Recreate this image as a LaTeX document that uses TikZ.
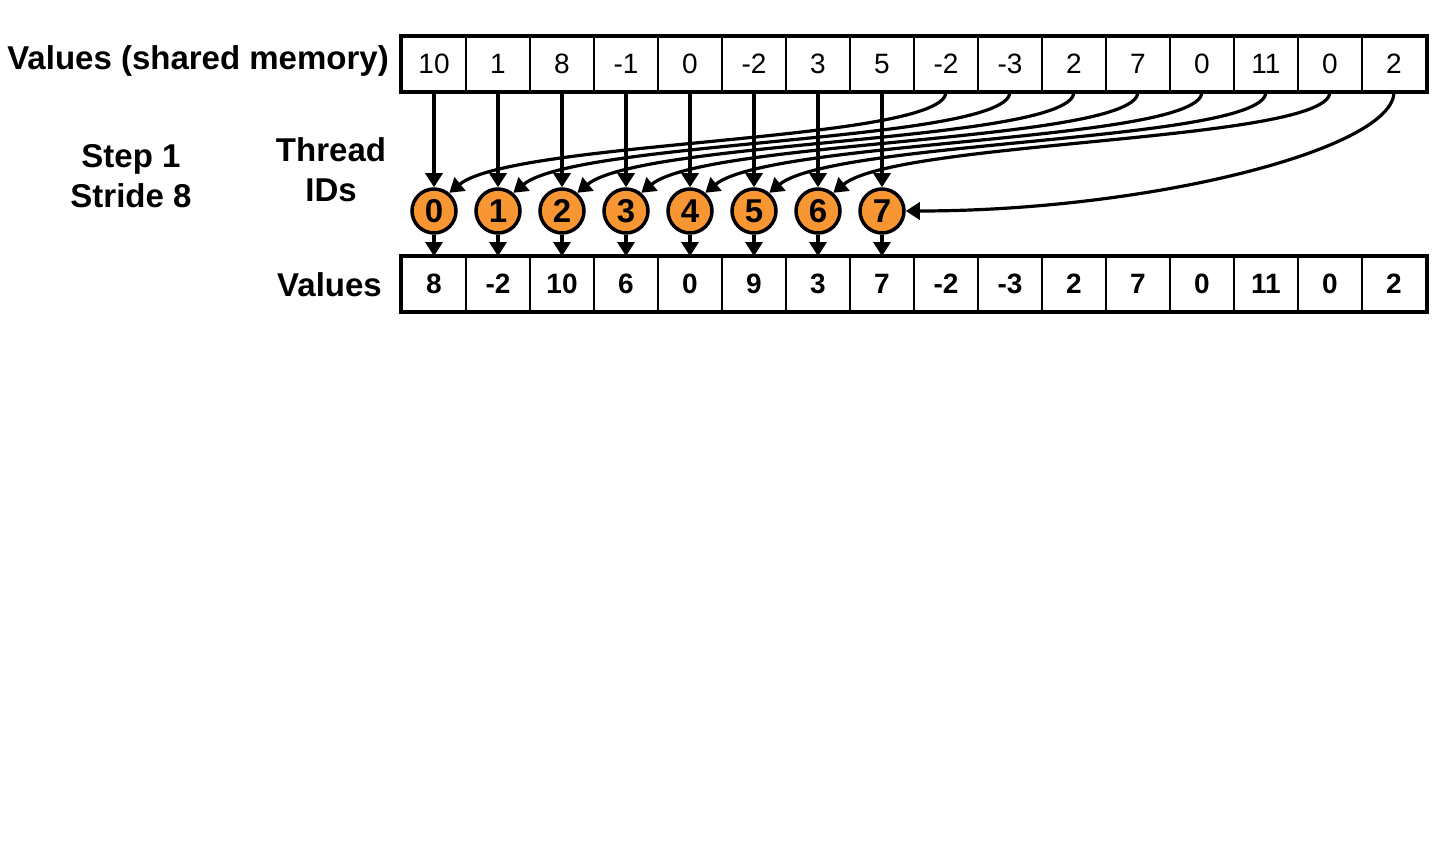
\documentclass[tikz,border=0pt]{standalone}
\usepackage{fontspec}
\setmainfont{Liberation Sans}
\usetikzlibrary{arrows.meta}
\definecolor{thorange}{RGB}{247,150,50}
\begin{document}
\begin{tikzpicture}[x=1pt,y=-1pt,
  cellT/.style={draw,line width=1.8pt,minimum width=64pt,minimum height=54pt,inner sep=0pt,font=\fontsize{28}{30}\selectfont},
  cellB/.style={cellT,font=\fontsize{28}{30}\selectfont\bfseries},
  circ/.style={circle,draw,line width=3.5pt,fill=thorange,minimum size=44pt,inner sep=0pt,font=\fontsize{33}{35}\selectfont\bfseries},
  arr/.style={line width=3.2pt,-{Triangle[width=17pt,length=14pt]}},
  lbl/.style={font=\fontsize{33}{38}\selectfont\bfseries,inner sep=0pt}]
\useasboundingbox (0,0) rectangle (1454,850);
% top array
\foreach \v [count=\i from 0] in {10,1,8,-1,0,-2,3,5,-2,-3,2,7,0,11,0,2}
  \node[cellT] (t\i) at (434+64*\i,64) {\v};
\draw[line width=4.5pt] (t0.north west) rectangle (t15.south east);
% bottom array
\foreach \v [count=\i from 0] in {8,-2,10,6,0,9,3,7,-2,-3,2,7,0,11,0,2}
  \node[cellB] (b\i) at (434+64*\i,284) {\v};
\draw[line width=4.5pt] (b0.north west) rectangle (b15.south east);
% thread circles
\foreach \i in {0,...,7}
  \node[circ] (c\i) at (434+64*\i,211) {\i};
% labels
\node[lbl,anchor=base east] (lvals) at (389,70) {Values (shared memory)};
\node[lbl,anchor=base] (lstep) at (131,168) {Step 1};
\node[lbl,anchor=base] (lstride) at (131,208) {Stride 8};
\node[lbl,anchor=base] (lthread) at (331,162) {Thread};
\node[lbl,anchor=base] (lids) at (331,202) {IDs};
\node[lbl,anchor=base east] (lvalsb) at (382,297) {Values};
% vertical arrows
\foreach \i in {0,...,7}{
  \draw[arr] (t\i.south) -- (c\i.north);
  \draw[arr] (c\i.south) -- (b\i.north);
}
% curved arrows
\foreach \i in {0,...,6}{
  \pgfmathtruncatemacro{\j}{\i+8}
  \draw[arr] (t\j.south) .. controls +(0,50) and (434+64*\i+80,140) .. (c\i.50);
}
\draw[arr] (t15.south) .. controls +(0,57) and (1150,211) .. (c7.east);
\end{tikzpicture}
\end{document}
